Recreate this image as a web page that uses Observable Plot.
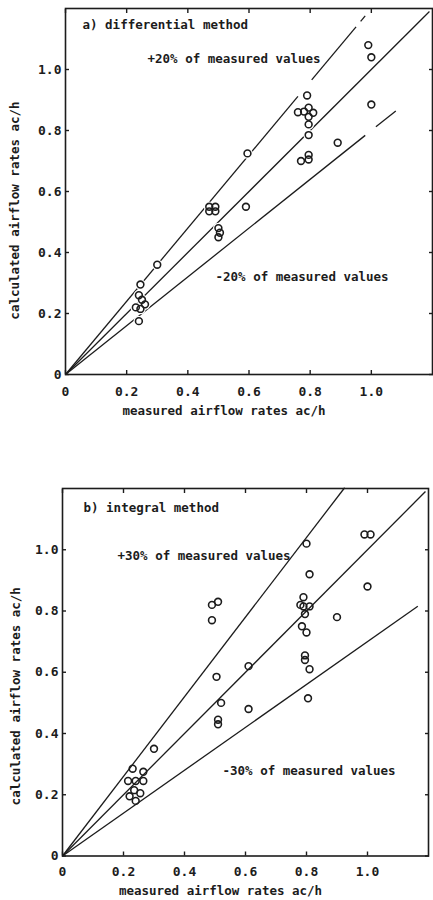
<!DOCTYPE html>
<html><head><meta charset="utf-8">
<script src="https://cdn.jsdelivr.net/npm/d3@7"></script>
<script src="https://cdn.jsdelivr.net/npm/@observablehq/plot@0.6"></script>
<style>
html,body{margin:0;padding:0;background:#fff;overflow:hidden;}
#wrap{position:relative;width:433px;height:900px;}
#wrap svg{position:absolute;left:0;}
</style></head><body><div id="wrap"></div>
<script>
// ---- data ----
const tickValues = [0, 0.2, 0.4, 0.6, 0.8, 1.0];
const tickLabels = ["0", "0.2", "0.4", "0.6", "0.8", "1.0"];
const xLabel = "measured airflow rates ac/h";
const yLabel = "calculated airflow rates ac/h";

const aTitle = "a) differential method";
const aUpperNote = "+20% of measured values";
const aLowerNote = "-20% of measured values";
const aMeasured   = [0.23, 0.24, 0.245, 0.25, 0.26, 0.245, 0.24, 0.30, 0.47, 0.49, 0.47, 0.49, 0.50, 0.505, 0.50, 0.59, 0.595, 0.79, 0.76, 0.78, 0.795, 0.81, 0.795, 0.795, 0.795, 0.77, 0.795, 0.795, 0.89, 0.99, 1.0, 1.0];
const aCalculated = [0.22, 0.26, 0.295, 0.245, 0.23, 0.215, 0.175, 0.36, 0.55, 0.55, 0.535, 0.535, 0.48, 0.465, 0.45, 0.55, 0.725, 0.915, 0.86, 0.862, 0.875, 0.858, 0.845, 0.82, 0.785, 0.70, 0.72, 0.705, 0.76, 1.08, 1.04, 0.885];
const aLineFactors = [1, 1.2, 0.8];
const aLineSegments = [[[0, 1.19]], [[0, 0.76], [0.805, 0.95], [0.965, 0.98]], [[0, 0.98], [1.015, 1.08]]];

const bTitle = "b) integral method";
const bUpperNote = "+30% of measured values";
const bLowerNote = "-30% of measured values";
const bMeasured   = [0.215, 0.23, 0.265, 0.24, 0.265, 0.22, 0.235, 0.255, 0.24, 0.30, 0.49, 0.51, 0.49, 0.505, 0.52, 0.51, 0.51, 0.61, 0.61, 0.80, 0.81, 0.79, 0.78, 0.79, 0.81, 0.795, 0.785, 0.80, 0.795, 0.795, 0.81, 0.805, 0.90, 0.99, 1.01, 1.0];
const bCalculated = [0.245, 0.285, 0.275, 0.245, 0.245, 0.195, 0.215, 0.205, 0.18, 0.35, 0.82, 0.83, 0.77, 0.585, 0.50, 0.445, 0.43, 0.62, 0.48, 1.02, 0.92, 0.845, 0.82, 0.815, 0.815, 0.79, 0.75, 0.73, 0.655, 0.64, 0.61, 0.515, 0.78, 1.05, 1.05, 0.88];
const bLineFactors = [1, 1.3, 0.7];
const bLineSegments = [[[0, 1.19]], [[0, 0.925]], [[0, 1.165]]];

// ---- drawing ----
const ink = "#1c1c1c";
const font = "'DejaVu Sans Mono', 'Liberation Mono', monospace";

function panel(cfg) {
  const pts = cfg.measured.map((m, i) => ({m, c: cfg.calculated[i]}));
  const segs = [];
  cfg.factors.forEach((k, i) => cfg.segments[i].forEach(([x1, x2]) => segs.push({x1, x2, y1: k * x1, y2: k * x2})));
  const fmt = d => tickLabels[tickValues.indexOf(d)];
  const noteStyle = {text: d => d, textAnchor: "start", lineAnchor: "middle", fontSize: 12.5, fill: ink, fontWeight: "bold"};
  const marks = [
    Plot.link(segs, {x1: "x1", y1: "y1", x2: "x2", y2: "y2", stroke: ink, strokeWidth: 1.3}),
  ];
  if (cfg.halo) marks.push(Plot.dot(pts, {x: "m", y: "c", r: 4.6, fill: "white", stroke: "white", strokeWidth: 1.5}));
  marks.push(
    Plot.dot(pts, {x: "m", y: "c", r: 3.4, fill: "none", stroke: ink, strokeWidth: 1.6}),
    Plot.frame({stroke: ink, strokeWidth: 1.6}),
    Plot.axisX({ticks: tickValues, anchor: "bottom", tickSize: -4, tickFormat: () => "", label: null, stroke: ink, strokeWidth: 1.4}),
    Plot.axisX({ticks: tickValues, anchor: "top", tickSize: -4, tickFormat: () => "", label: null, stroke: ink, strokeWidth: 1.4}),
    Plot.axisY({ticks: tickValues, anchor: "left", tickSize: -4, tickFormat: () => "", label: null, stroke: ink, strokeWidth: 1.4}),
    Plot.axisY({ticks: tickValues, anchor: "right", tickSize: -4, tickFormat: () => "", label: null, stroke: ink, strokeWidth: 1.4}),
    Plot.axisX({ticks: tickValues, anchor: "bottom", tickSize: 0, tickPadding: cfg.xPad, tickFormat: fmt, label: null, fontSize: 13, fill: ink}),
    Plot.axisY({ticks: tickValues, anchor: "left", tickSize: 0, tickPadding: 4, tickFormat: fmt, label: null, fontSize: 13, fill: ink}),
    Plot.text([cfg.title], {...noteStyle, frameAnchor: "top-left", dx: cfg.title_dx, dy: cfg.title_dy}),
    Plot.text([cfg.upper], {...noteStyle, frameAnchor: "top-left", dx: cfg.up_dx, dy: cfg.up_dy}),
    Plot.text([cfg.lower], {...noteStyle, frameAnchor: "top-left", dx: cfg.lo_dx, dy: cfg.lo_dy}),
    Plot.text([xLabel], {text: d => d, frameAnchor: "bottom", dx: -25, dy: cfg.xl_dy, textAnchor: "middle", lineAnchor: "middle", fontSize: 12.5, fill: ink, fontWeight: "bold"}),
    Plot.text([yLabel], {text: d => d, frameAnchor: "left", rotate: -90, dx: cfg.yl_dx, dy: cfg.yl_dy, textAnchor: "middle", lineAnchor: "middle", fontSize: 12.5, fill: ink, fontWeight: "bold"})
  );
  const svg = Plot.plot({
    width: 433, height: cfg.height,
    marginTop: cfg.mt, marginBottom: cfg.mb, marginLeft: cfg.ml, marginRight: cfg.mr,
    x: {domain: [0, 1.2]}, y: {domain: [0, 1.2]},
    style: {fontFamily: font, fontSize: "13px", fontWeight: "bold", color: ink, background: "transparent", overflow: "visible"},
    marks
  });
  svg.style.top = cfg.top + "px";
  svg.style.maxWidth = "none";
  return svg;
}

const wrap = document.getElementById("wrap");
wrap.appendChild(panel({
  measured: aMeasured, calculated: aCalculated, factors: aLineFactors, segments: aLineSegments,
  title: aTitle, upper: aUpperNote, lower: aLowerNote, halo: true,
  top: 0, height: 430, mt: 8, mb: 56, ml: 65, mr: 1, xPad: 12,
  title_dx: 17, title_dy: 16, up_dx: 82, up_dy: 50, lo_dx: 150, lo_dy: 268,
  xl_dy: 36, yl_dx: -51, yl_dy: 19
}));
wrap.appendChild(panel({
  measured: bMeasured, calculated: bCalculated, factors: bLineFactors, segments: bLineSegments,
  title: bTitle, upper: bUpperNote, lower: bLowerNote, halo: false,
  top: 440, height: 460, mt: 48, mb: 44.5, ml: 62, mr: 5, xPad: 11,
  title_dx: 21, title_dy: 19, up_dx: 55, up_dy: 67, lo_dx: 160, lo_dy: 282,
  xl_dy: 34.5, yl_dx: -47, yl_dy: 24
}));
</script></body></html>
